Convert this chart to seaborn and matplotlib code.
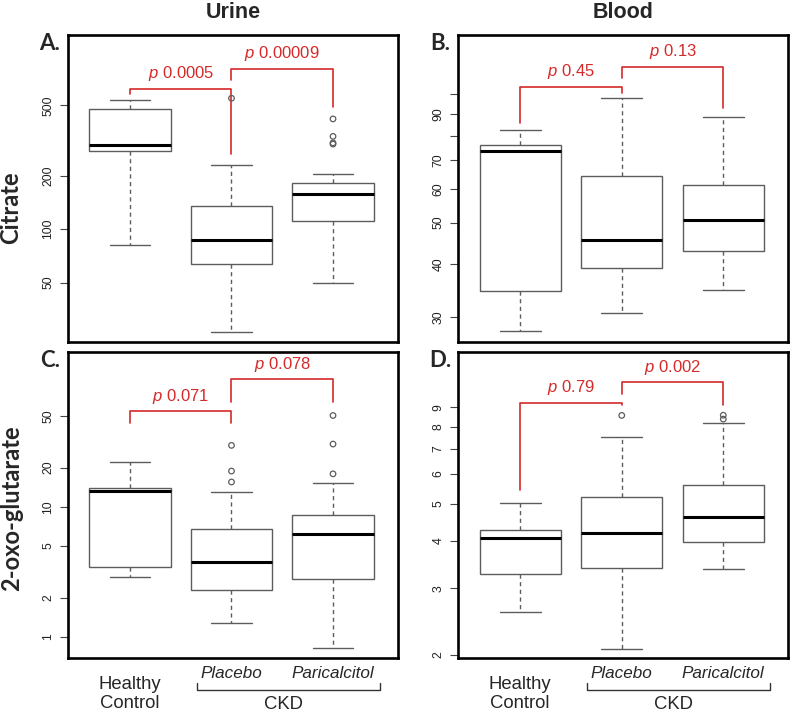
import matplotlib
matplotlib.use('Agg')
import matplotlib.pyplot as plt
import matplotlib.transforms as mtrans
import numpy as np
import pandas as pd
import seaborn as sns

sns.set_theme(style='white')
plt.rcParams['font.family'] = ['Liberation Sans', 'DejaVu Sans']
plt.rcParams['mathtext.fontset'] = 'custom'
plt.rcParams['mathtext.it'] = 'Liberation Sans:italic'
plt.rcParams['mathtext.rm'] = 'Liberation Sans'

groups = ['Healthy Control', 'Placebo', 'Paricalcitol']

# five-number summaries (lower whisker, Q1, median, Q3, upper whisker) per group
urine_citrate = [[81, 275, 299, 477, 536], [26.3, 64, 86.7, 136, 230], [50, 111, 158, 182, 204]]
blood_citrate = [[27.8, 34.6, 73.5, 76.1, 82.6], [30.7, 39.1, 45.5, 64.4, 98], [34.8, 42.9, 50.7, 61.3, 88.3]]
urine_oxo = [[2.87, 3.44, 13.3, 14.0, 22.0], [1.29, 2.30, 3.77, 6.78, 12.9], [0.818, 2.80, 6.17, 8.63, 15.1]]
blood_oxo = [[2.59, 3.27, 4.07, 4.28, 5.02], [2.08, 3.39, 4.20, 5.22, 7.51], [3.36, 3.96, 4.61, 5.62, 8.15]]

# outliers
urine_citrate_out = [[], [548], [302, 307, 334, 419]]
blood_citrate_out = [[], [], []]
urine_oxo_out = [[], [15.5, 18.8, 29.6], [17.9, 30.3, 50.2]]
blood_oxo_out = [[], [8.56], [8.37, 8.57]]

# p-values and bracket heights: (top, left end, right end)
urine_citrate_p = ['0.0005', '0.00009']
urine_citrate_br = [(621, 577, 264), (801, 695, 488)]
blood_citrate_p = ['0.45', '0.13']
blood_citrate_br = [(104.3, 85.6, 101), (116.2, 109.2, 93.1)]
urine_oxo_p = ['0.071', '0.078']
urine_oxo_br = [(54.0, 44.2, 44.2), (95.1, 63.9, 63.9)]
blood_oxo_p = ['0.79', '0.002']
blood_oxo_br = [(9.23, 5.43, 9.13), (10.46, 9.76, 9.12)]

urine_citrate_ylim = (23.1, 1247)
blood_citrate_ylim = (26.2, 138)
urine_oxo_ylim = (0.687, 155)
blood_oxo_ylim = (1.96, 12.6)

urine_citrate_ticks = [50, 100, 200, 500]
blood_citrate_ticks = [30, 40, 50, 60, 70, 80, 90, 100]
blood_citrate_ticklabels = ['30', '40', '50', '60', '70', '', '90', '']
urine_oxo_ticks = [1, 2, 5, 10, 20, 50]
blood_oxo_ticks = [2, 3, 4, 5, 6, 7, 8, 9]

RED = '#d42a2a'
GREY = '#5c5c5c'


def to_frame(stats):
    rows = []
    for g, vals in zip(groups, stats):
        for v in vals:
            rows.append({'group': g, 'value': v})
    return pd.DataFrame(rows)


def panel(ax, stats, outs, pvals, brackets, ylim, ticks, ticklabels=None, bottom=False):
    ax.set_yscale('log')
    sns.boxplot(data=to_frame(stats), x='group', y='value', order=groups, ax=ax,
                whis=(0, 100), showfliers=False, width=0.8, color='white',
                linecolor=GREY, linewidth=1.0,
                medianprops=dict(color='black', linewidth=2.2),
                whiskerprops=dict(linestyle=(0, (3, 2.5))))
    odf = to_frame(outs)
    if len(odf):
        sns.stripplot(data=odf, x='group', y='value', order=groups, ax=ax,
                      jitter=False, color='none', edgecolor=GREY, linewidth=0.9,
                      size=4, marker='o')
    # significance brackets
    for i, ((top, lo_l, lo_r), p) in enumerate(zip(brackets, pvals)):
        ax.plot([i, i, i + 1, i + 1], [lo_l, top, top, lo_r], color=RED, lw=1.2,
                solid_joinstyle='round', clip_on=False)
        ax.annotate(r'$\mathit{p}$ ' + p, xy=(i + 0.5, top), xytext=(0, 4),
                    textcoords='offset points', ha='center', va='bottom',
                    color=RED, fontsize=12)
    ax.set_ylim(*ylim)
    ax.set_yticks(ticks)
    ax.set_yticklabels(ticklabels if ticklabels else [str(t) for t in ticks])
    ax.yaxis.set_minor_locator(matplotlib.ticker.NullLocator())
    ax.tick_params(axis='y', left=True, direction='out', length=5.5, width=0.8,
                   color='#444444', pad=4.5, labelsize=8.8, labelcolor='#222222',
                   labelrotation=90)
    plt.setp(ax.get_yticklabels(), va='center')
    ax.set_xticks([])
    ax.set_xlim(-0.61, 2.64)
    ax.set_xlabel('')
    ax.set_ylabel('')
    for s in ax.spines.values():
        s.set_color('black')
        s.set_linewidth(1.9)
    if bottom:
        tr = mtrans.blended_transform_factory(ax.transData, ax.transAxes)
        ax.text(0, -0.116, 'Healthy\nControl', transform=tr, ha='center', va='center',
                fontsize=13.3, linespacing=1.2)
        ax.text(1, -0.051, 'Placebo', transform=tr, ha='center', va='center',
                fontsize=12.3, style='italic')
        ax.text(2, -0.051, 'Paricalcitol', transform=tr, ha='center', va='center',
                fontsize=12.3, style='italic')
        ax.plot([0.66, 0.66, 2.46, 2.46], [-0.081, -0.103, -0.103, -0.081],
                transform=tr, color='#333333', lw=1.0, clip_on=False)
        ax.text(1.51, -0.152, 'CKD', transform=tr, ha='center', va='center',
                fontsize=13.3)


fig = plt.figure(figsize=(7.9, 7.15), dpi=100)
axA = fig.add_axes([0.0861, 0.5217, 0.4177, 0.4294])
axB = fig.add_axes([0.5801, 0.5217, 0.4177, 0.4294])
axC = fig.add_axes([0.0861, 0.0793, 0.4177, 0.4288])
axD = fig.add_axes([0.5801, 0.0793, 0.4177, 0.4288])

panel(axA, urine_citrate, urine_citrate_out, urine_citrate_p, urine_citrate_br,
      urine_citrate_ylim, urine_citrate_ticks)
panel(axB, blood_citrate, blood_citrate_out, blood_citrate_p, blood_citrate_br,
      blood_citrate_ylim, blood_citrate_ticks, blood_citrate_ticklabels)
panel(axC, urine_oxo, urine_oxo_out, urine_oxo_p, urine_oxo_br,
      urine_oxo_ylim, urine_oxo_ticks, bottom=True)
panel(axD, blood_oxo, blood_oxo_out, blood_oxo_p, blood_oxo_br,
      blood_oxo_ylim, blood_oxo_ticks, bottom=True)

W, H = 790, 715
bold = dict(fontweight='bold', ha='center', va='center')
fig.text(233 / W, 1 - 12 / H, 'Urine', fontsize=15.5, **bold)
fig.text(623 / W, 1 - 12 / H, 'Blood', fontsize=15.5, **bold)
fig.text(11 / W, 1 - 208 / H, 'Citrate', rotation=90, fontsize=17,
         family=['Lato', 'DejaVu Sans'], **bold)
fig.text(12 / W, 1 - 508 / H, '2-oxo-glutarate', rotation=90, fontsize=17,
         family=['Lato', 'DejaVu Sans'], **bold)
for lab, x, y in [('A.', 50, 44), ('B.', 440, 44), ('C.', 50, 360), ('D.', 440, 360)]:
    fig.text(x / W, 1 - y / H, lab, fontsize=16, family=['Lato', 'DejaVu Sans'], **bold)

fig.savefig('out.png', dpi=100)
